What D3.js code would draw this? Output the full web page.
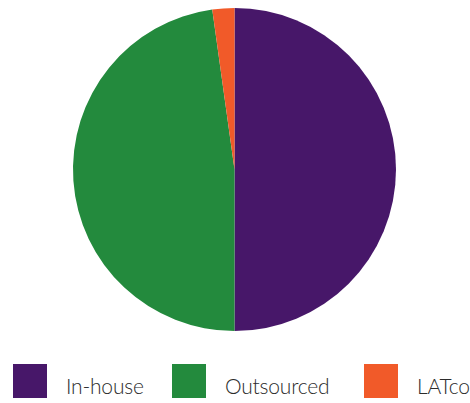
<!DOCTYPE html>
<html>
<head>
<meta charset="utf-8">
<script src="https://cdn.jsdelivr.net/npm/d3@7"></script>
<style>
  html, body { margin: 0; padding: 0; background: #fff; }
  svg { display: block; }
</style>
</head>
<body>
<svg id="chart" width="470" height="403"></svg>
<script>
// Share of delivery model
const categories = ["In-house", "Outsourced", "LATco"];
const values = [50.0, 47.8, 2.2];
const colors = ["#471769", "#238a3d", "#f15a29"];

const svg = d3.select("#chart");
const cx = 234.5, cy = 169.5, radius = 161.5;

const pie = d3.pie().sort(null).value(d => d.value);
const arc = d3.arc().innerRadius(0).outerRadius(radius);

const data = categories.map((c, i) => ({ name: c, value: values[i] }));
const color = d3.scaleOrdinal().domain(categories).range(colors);

svg.append("g")
  .attr("transform", `translate(${cx},${cy})`)
  .selectAll("path")
  .data(pie(data))
  .join("path")
  .attr("d", arc)
  .attr("fill", d => color(d.data.name));

// Legend along the bottom
const legendX = d3.scaleOrdinal().domain(categories).range([13, 172, 364]);
const legend = svg.append("g")
  .selectAll("g")
  .data(categories)
  .join("g")
  .attr("transform", d => `translate(${legendX(d)},364)`);

legend.append("rect")
  .attr("width", 34)
  .attr("height", 34)
  .attr("fill", d => color(d));

legend.append("text")
  .attr("x", 53)
  .attr("y", 30)
  .attr("font-family", "Lato, 'Noto Sans', sans-serif")
  .attr("font-size", 21)
  .attr("font-weight", 300)
  .attr("letter-spacing", -0.2)
  .attr("fill", "#2b2b2b")
  .text(d => d);
</script>
</body>
</html>
